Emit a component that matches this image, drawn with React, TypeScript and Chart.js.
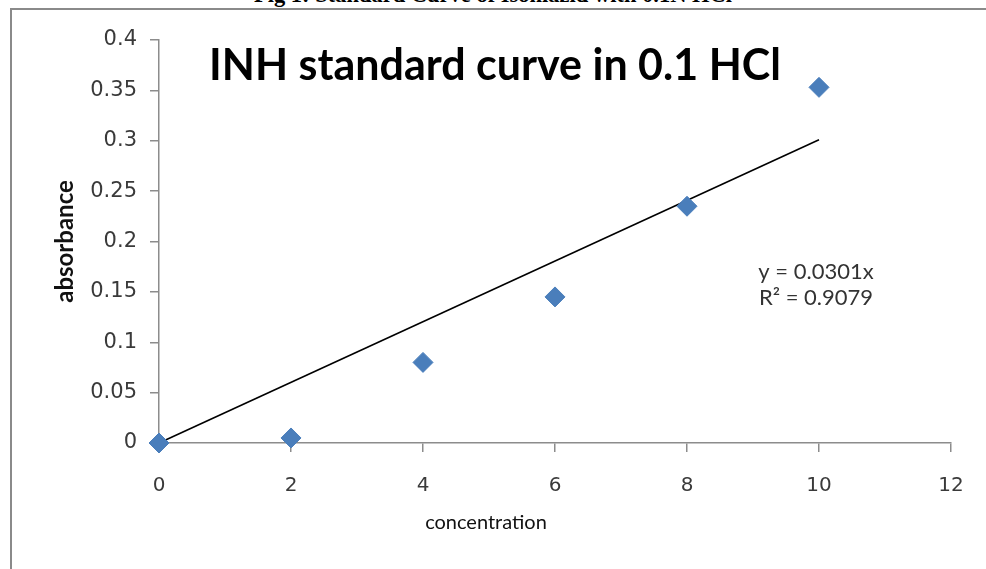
import React, { useEffect, useRef } from "react";
import { Chart, registerables } from "chart.js";

Chart.register(...registerables);

// ---- data ----
const concentration = [0, 2, 4, 6, 8, 10];
const absorbance = [0, 0.005, 0.08, 0.145, 0.235, 0.353];
const trendX = [0, 10];
const trendY = [0, 0.301];
const xTickLabels = ["0", "2", "4", "6", "8", "10", "12"];
const yTickLabels = ["0", "0.05", "0.1", "0.15", "0.2", "0.25", "0.3", "0.35", "0.4"];
const chartTitle = "INH standard curve in 0.1 HCl";
const equationLines = ["y = 0.0301x", "R² = 0.9079"];
const caption = "Fig 1: Standard Curve of Isoniazid with 0.1N HCl";
const xAxisTitle = "concentration";
const yAxisTitle = "absorbance";

const FONT = "Lato, 'Open Sans', sans-serif";
const TICK_FONT = "'DejaVu Sans', Verdana, sans-serif";

const overlayPlugin = {
  id: "overlayText",
  afterDraw(chart: any) {
    const ctx = chart.ctx;
    const area = chart.chartArea;
    ctx.save();
    ctx.fillStyle = "#000";
    ctx.font = `bold 43px ${FONT}`;
    ctx.textAlign = "center";
    ctx.textBaseline = "middle";
    ctx.fillText(chartTitle, area.left + 336, area.top + 26);

    ctx.fillStyle = "#333";
    ctx.font = `22px ${FONT}`;
    ctx.fillText(equationLines[0], area.left + 657, area.top + 232);
    ctx.fillText(equationLines[1], area.left + 657, area.top + 258);

    // x-axis title (offset left of the plot centre, as in the source)
    ctx.fillStyle = "#111";
    ctx.font = `20px ${FONT}`;
    ctx.fillText(xAxisTitle, area.left + 327, area.bottom + 80);
    ctx.restore();
  },
};

export default function App() {
  const ref = useRef<HTMLCanvasElement | null>(null);

  useEffect(() => {
    document.body.style.margin = "0";
    const canvas = ref.current;
    if (!canvas) return;
    const chart = new Chart(canvas, {
      type: "scatter",
      data: {
        datasets: [
          {
            label: "absorbance",
            data: concentration.map((x, i) => ({ x, y: absorbance[i] })),
            pointStyle: "rectRot",
            pointRadius: 10,
            pointHoverRadius: 10,
            backgroundColor: "#4a7ebb",
            borderColor: "#4a7ebb",
            borderWidth: 1,
            clip: false,
            order: 1,
          },
          {
            type: "line",
            label: "trend",
            data: trendX.map((x, i) => ({ x, y: trendY[i] })),
            borderColor: "#000",
            borderWidth: 1.6,
            pointRadius: 0,
            showLine: true,
            fill: false,
            clip: false,
            order: 2,
          } as any,
        ],
      },
      options: {
        animation: false,
        responsive: false,
        maintainAspectRatio: false,
        layout: { padding: { top: 40, right: 35, left: 0, bottom: 0 } },
        plugins: {
          legend: { display: false },
          tooltip: { enabled: false },
        },
        scales: {
          x: {
            type: "linear",
            min: 0,
            max: 12,
            afterFit: (s: any) => {
              s.height = 126;
            },
            ticks: {
              stepSize: 2,
              padding: 22,
              color: "#3a3a3a",
              font: { family: TICK_FONT, size: 20 },
              callback: (_v: any, i: number) => xTickLabels[i],
            },
            grid: { drawOnChartArea: false, drawTicks: true, tickLength: 9, color: "#8c8c8c", lineWidth: 1.5 },
            border: { color: "#8c8c8c", width: 1.5 },
            title: { display: false, text: xAxisTitle },
          },
          y: {
            type: "linear",
            min: 0,
            max: 0.4,
            afterFit: (s: any) => {
              s.width = 159;
            },
            ticks: {
              stepSize: 0.05,
              padding: 13,
              color: "#3a3a3a",
              font: { family: TICK_FONT, size: 21 },
              callback: (_v: any, i: number) => yTickLabels[i],
            },
            grid: { drawOnChartArea: false, drawTicks: true, tickLength: 9, color: "#8c8c8c", lineWidth: 1.5 },
            border: { color: "#8c8c8c", width: 1.5 },
            title: {
              display: true,
              text: yAxisTitle,
              color: "#111",
              font: { family: FONT, size: 24, weight: "bold" },
              padding: { top: 51, bottom: 0 },
            },
          },
        },
      },
      plugins: [overlayPlugin],
    });
    return () => chart.destroy();
  }, []);

  return (
    <div style={{ position: "relative", width: 986, height: 569, overflow: "hidden", background: "#fff" }}>
      <div
        style={{
          position: "absolute",
          left: 10,
          top: 8,
          width: 1000,
          height: 600,
          borderTop: "2px solid #8a8a8a",
          borderLeft: "2px solid #8a8a8a",
        }}
      />
      <div
        style={{
          position: "absolute",
          left: 0,
          top: -16,
          width: 986,
          textAlign: "center",
          fontFamily: "'Liberation Serif', 'Times New Roman', serif",
          fontWeight: "bold",
          fontSize: 22.5,
          lineHeight: "22px",
          color: "#000",
        }}
      >
        {caption}
      </div>
      <canvas ref={ref} width={986} height={569} style={{ position: "absolute", left: 0, top: 0 }} />
    </div>
  );
}
